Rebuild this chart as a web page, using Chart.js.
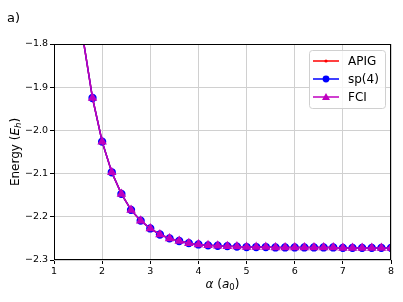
<!DOCTYPE html>
<html>
<head>
<meta charset="utf-8">
<script src="https://cdn.jsdelivr.net/npm/chart.js@4.4.0/dist/chart.umd.min.js"></script>
<style>
  html, body { margin: 0; padding: 0; background: #fff; }
  #wrap { width: 403px; height: 302px; }
</style>
</head>
<body>
<div id="wrap"><canvas id="energy" width="403" height="302"></canvas></div>
<script>
// bond length alpha (a0), step 0.2
const alpha = [1.6, 1.8, 2.0, 2.2, 2.4, 2.6, 2.8, 3.0, 3.2, 3.4, 3.6, 3.8, 4.0, 4.2, 4.4, 4.6, 4.8,
  5.0, 5.2, 5.4, 5.6, 5.8, 6.0, 6.2, 6.4, 6.6, 6.8, 7.0, 7.2, 7.4, 7.6, 7.8, 8.0];
// energies (Eh) - the three methods overlap
const apig = [-1.785, -1.925, -2.026, -2.097, -2.147, -2.184, -2.209, -2.227, -2.241, -2.250, -2.256, -2.261, -2.264, -2.266, -2.267, -2.268, -2.269,
  -2.270, -2.270, -2.270, -2.271, -2.271, -2.271, -2.271, -2.271, -2.271, -2.271, -2.272, -2.272, -2.272, -2.272, -2.272, -2.272];
const sp4 = [-1.785, -1.925, -2.026, -2.097, -2.147, -2.184, -2.209, -2.227, -2.241, -2.250, -2.256, -2.261, -2.264, -2.266, -2.267, -2.268, -2.269,
  -2.270, -2.270, -2.270, -2.271, -2.271, -2.271, -2.271, -2.271, -2.271, -2.271, -2.272, -2.272, -2.272, -2.272, -2.272, -2.272];
const fci = [-1.785, -1.925, -2.026, -2.097, -2.147, -2.184, -2.209, -2.227, -2.241, -2.250, -2.256, -2.261, -2.264, -2.266, -2.267, -2.268, -2.269,
  -2.270, -2.270, -2.270, -2.271, -2.271, -2.271, -2.271, -2.271, -2.271, -2.271, -2.272, -2.272, -2.272, -2.272, -2.272, -2.272];
const xTicks = [1, 2, 3, 4, 5, 6, 7, 8];
const yTicks = [-2.3, -2.2, -2.1, -2.0, -1.9, -1.8];
const seriesNames = ['APIG', 'sp(4)', 'FCI'];

const RED = '#ff0000', BLUE = '#0000ff', MAG = '#bf00bf';
const FONT = 'DejaVu Sans';

function pts(ys) {
  return alpha.map((a, i) => ({ x: a, y: ys[i] }));
}

// draws pieces of text one after another (for italics / subscripts)
function drawRuns(ctx, runs, cx, cy) {
  let total = 0;
  runs.forEach(r => { ctx.font = r.font; r.w = ctx.measureText(r.t).width; total += r.w; });
  let x = cx - total / 2;
  ctx.textBaseline = 'middle';
  ctx.textAlign = 'left';
  runs.forEach(r => {
    ctx.font = r.font;
    ctx.fillText(r.t, x, cy + (r.dy || 0));
    x += r.w;
  });
}

const extras = {
  id: 'extras',
  afterDraw(chart) {
    const ctx = chart.ctx;
    const a = chart.chartArea;
    ctx.save();
    // box round the axes
    ctx.strokeStyle = '#000';
    ctx.lineWidth = 1;
    ctx.strokeRect(Math.round(a.left) + 0.5, Math.round(a.top) + 0.5,
      Math.round(a.right - a.left) - 1, Math.round(a.bottom - a.top) - 1);

    ctx.fillStyle = '#000';
    // panel letter
    ctx.font = '13px ' + FONT;
    ctx.textAlign = 'left';
    ctx.textBaseline = 'alphabetic';
    ctx.fillText('a)', 7, 22);

    // x label
    drawRuns(ctx, [
      { t: 'α', font: 'italic 12px ' + FONT },
      { t: ' (', font: '12px ' + FONT },
      { t: 'a', font: 'italic 12px ' + FONT },
      { t: '0', font: '8.5px ' + FONT, dy: 3 },
      { t: ')', font: '12px ' + FONT }
    ], (a.left + a.right) / 2, 285);

    // y label
    ctx.save();
    ctx.translate(16, (a.top + a.bottom) / 2);
    ctx.rotate(-Math.PI / 2);
    drawRuns(ctx, [
      { t: 'Energy (', font: '12px ' + FONT },
      { t: 'E', font: 'italic 12px ' + FONT },
      { t: 'h', font: 'italic 8.5px ' + FONT, dy: 3 },
      { t: ')', font: '12px ' + FONT }
    ], 0, 0);
    ctx.restore();

    // legend
    const lx = 309, ly = 50, lw = 76, lh = 58;
    ctx.beginPath();
    ctx.roundRect(lx + 0.5, ly + 0.5, lw, lh, 3);
    ctx.fillStyle = 'rgba(255,255,255,0.8)';
    ctx.fill();
    ctx.strokeStyle = '#d0d0d0';
    ctx.stroke();
    const cols = [RED, BLUE, MAG];
    seriesNames.forEach((name, i) => {
      const y = ly + 11 + i * 18;
      ctx.strokeStyle = cols[i];
      ctx.lineWidth = 1.5;
      ctx.beginPath();
      ctx.moveTo(313, y);
      ctx.lineTo(339, y);
      ctx.stroke();
      ctx.fillStyle = cols[i];
      ctx.beginPath();
      if (i === 0) {
        ctx.arc(326, y, 1.6, 0, Math.PI * 2);
      } else if (i === 1) {
        ctx.arc(326, y, 3.4, 0, Math.PI * 2);
      } else {
        ctx.moveTo(326, y - 4);
        ctx.lineTo(330, y + 3);
        ctx.lineTo(322, y + 3);
        ctx.closePath();
      }
      ctx.fill();
      ctx.fillStyle = '#000';
      ctx.font = '12px ' + FONT;
      ctx.textAlign = 'left';
      ctx.textBaseline = 'middle';
      ctx.fillText(name, 348, y + 1);
    });
    ctx.restore();
  }
};

new Chart(document.getElementById('energy'), {
  type: 'line',
  data: {
    datasets: [
      { label: seriesNames[0], data: pts(apig), borderColor: RED, backgroundColor: RED,
        borderWidth: 1.5, pointRadius: 1.5, pointStyle: 'circle', order: 3, clip: 0 },
      { label: seriesNames[1], data: pts(sp4), borderColor: BLUE, backgroundColor: BLUE,
        borderWidth: 1.5, pointRadius: 3.4, pointStyle: 'circle', order: 2, clip: 0 },
      { label: seriesNames[2], data: pts(fci), borderColor: MAG, backgroundColor: MAG,
        borderWidth: 1.5, pointRadius: 4, pointStyle: 'triangle', order: 1, clip: 0 }
    ]
  },
  options: {
    responsive: false,
    animation: false,
    layout: { padding: { top: 44, right: 12, left: 0, bottom: 0 } },
    plugins: { legend: { display: false }, tooltip: { enabled: false } },
    elements: { point: { borderWidth: 0, hoverRadius: 0 }, line: { tension: 0 } },
    scales: {
      x: {
        type: 'linear', min: 1, max: 8,
        afterFit(s) { s.height = 42; },
        afterBuildTicks(s) { s.ticks = xTicks.map(v => ({ value: v })); },
        grid: { color: '#d0d0d0', tickColor: '#000', tickLength: 4, lineWidth: 1 },
        border: { display: false },
        ticks: { color: '#000', padding: 2, font: { family: FONT, size: 9.5 },
          callback: v => String(v) }
      },
      y: {
        type: 'linear', min: -2.3, max: -1.8,
        afterFit(s) { s.width = 54; },
        afterBuildTicks(s) { s.ticks = yTicks.map(v => ({ value: v })); },
        grid: { color: '#d0d0d0', tickColor: '#000', tickLength: 4, lineWidth: 1 },
        border: { display: false },
        ticks: { color: '#000', padding: 2, font: { family: FONT, size: 9.5 },
          callback: v => v.toFixed(1).replace('-', '\u2212') }
      }
    }
  },
  plugins: [extras]
});
</script>
</body>
</html>
